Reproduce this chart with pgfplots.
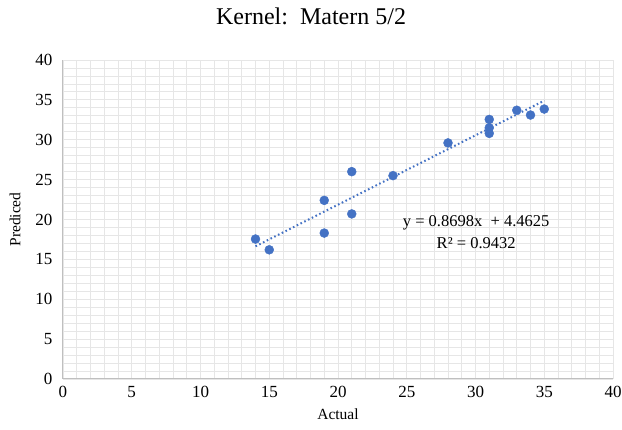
\documentclass[border=0pt]{standalone}
\usepackage{pgfplots}
\pgfplotsset{compat=1.18}
\usepackage{fontspec}
\setmainfont{Liberation Serif}
\definecolor{exblue}{HTML}{4472C4}
\definecolor{gridc}{HTML}{E6E6E6}
\definecolor{axc}{HTML}{BFBFBF}
\begin{document}
\begin{tikzpicture}
\begin{axis}[
  name=ax,
  at={(0,0)}, anchor=south west,
  scale only axis,
  width=550pt, height=319pt,
  xmin=0, xmax=40, ymin=0, ymax=40,
  xtick distance=5, ytick distance=5,
  minor x tick num=4, minor y tick num=4,
  grid=both,
  major grid style={gridc, line width=0.8pt},
  minor grid style={gridc, line width=0.8pt},
  major tick length=0, minor tick length=0,
  axis lines*=left,
  axis line style={axc, line width=1pt, -},
  /pgf/number format/assume math mode=true,
  tick label style={font=\fontsize{17}{20}\selectfont},
  yticklabel style={xshift=-7pt},
  xticklabel style={yshift=-4pt},
  xlabel={Actual},
  ylabel={Prediced},
  label style={font=\fontsize{15.5}{18}\selectfont},
  xlabel style={at={(axis description cs:0.5,-0.1097)}, anchor=center},
  ylabel style={at={(axis description cs:-0.0873,0.5)}, anchor=center},
  title={Kernel:\ \ Matern 5/2},
  title style={at={(axis description cs:0.451,1.119)}, anchor=center, font=\fontsize{24}{28}\selectfont},
  clip=false,
]
\addplot[exblue, line width=2pt, dash pattern=on 1.6pt off 2.6pt] coordinates {
  (14,16.640) (35,34.906)
};
\addplot[only marks, mark=*, mark size=4.5pt, exblue, mark options={fill=exblue, draw=exblue}] coordinates {
  (14,17.55) (15,16.2) (19,22.4) (19,18.3) (21,26.0) (21,20.7)
  (24,25.5) (28,29.6) (31,32.55) (31,31.5) (31,30.8)
  (33,33.7) (34,33.1) (35,33.85)
};
\node[align=center, font=\fontsize{16.5}{22}\selectfont] at (axis cs:30.05,18.45) {y = 0.8698x\ \ + 4.4625\\R² = 0.9432};
\end{axis}
\pgfresetboundingbox
\path (ax.south west) ++(-63pt,-51pt) rectangle ++(622pt,430pt);
\end{tikzpicture}
\end{document}
